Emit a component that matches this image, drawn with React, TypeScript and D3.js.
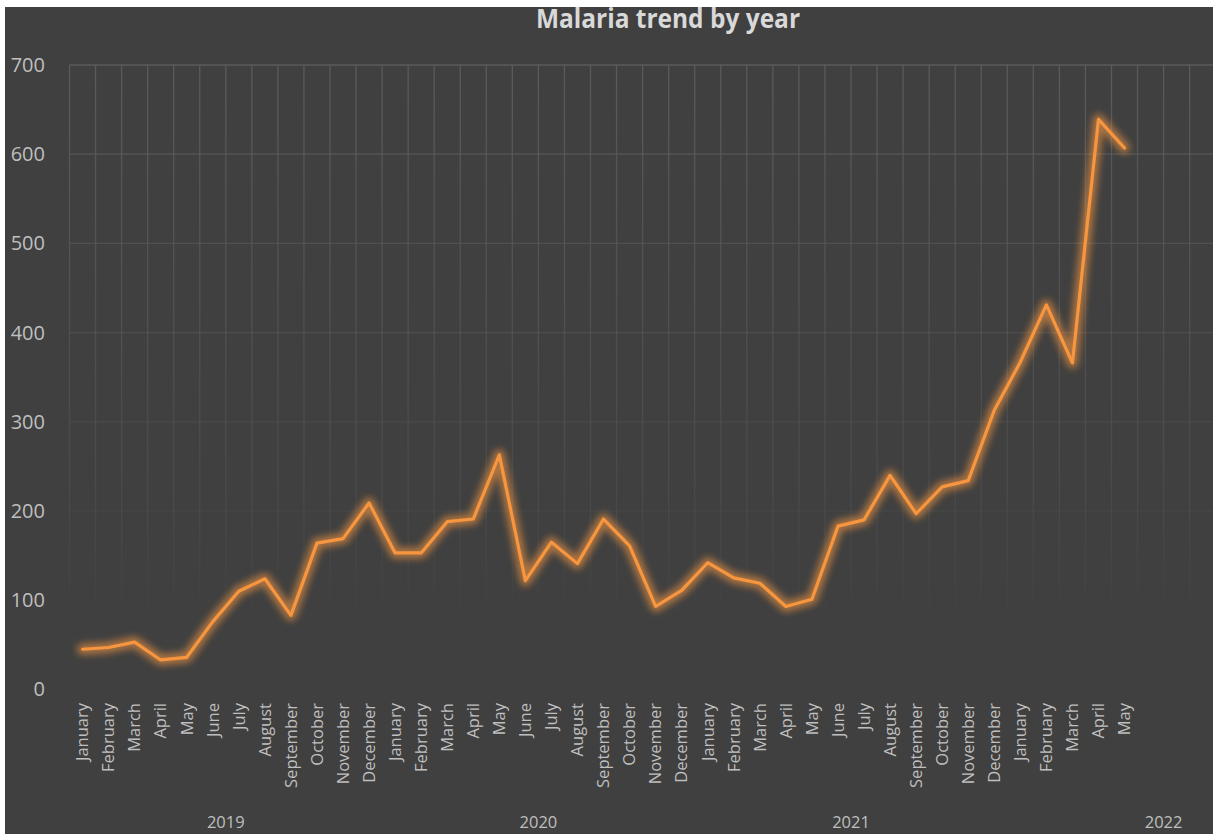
import React from "react";
import * as d3 from "d3";

const TITLE = "Malaria trend by year";

const MONTHS_FULL = ["January","February","March","April","May","June","July","August","September","October","November","December"];
const MONTHS_2022 = ["January","February","March","April","May","","","","","","",""];

const YEARS = ["2019", "2020", "2021", "2022"];

const values2019 = [45, 47, 53, 33, 36, 76, 110, 124, 83, 164, 169, 209];
const values2020 = [153, 153, 188, 191, 263, 122, 165, 141, 191, 161, 93, 111];
const values2021 = [142, 125, 119, 93, 101, 183, 190, 240, 197, 227, 234, 313];
const values2022 = [367, 431, 366, 639, 607];

const Y_TICKS = [0, 100, 200, 300, 400, 500, 600, 700];

const W = 1213;
const H = 835;

export default function App() {
  const monthGroups = [MONTHS_FULL, MONTHS_FULL, MONTHS_FULL, MONTHS_2022];
  const cats: { label: string; year: string; gi: number }[] = [];
  monthGroups.forEach((g, gi) => g.forEach((m) => cats.push({ label: m, year: YEARS[gi], gi })));
  const allValues = [...values2019, ...values2020, ...values2021, ...values2022];

  const plotLeft = 69.5;
  const step = 26.05;
  const x = d3
    .scaleBand<number>()
    .domain(cats.map((_, i) => i))
    .range([plotLeft, plotLeft + step * cats.length])
    .paddingInner(0)
    .paddingOuter(0);
  const bw = x.bandwidth();
  const cx = (i: number) => (x(i) as number) + bw / 2;

  const y = d3.scaleLinear().domain([0, 700]).range([689.4, 65]);

  const line = d3
    .line<number>()
    .x((_, i) => cx(i))
    .y((d) => y(d));
  const pathD = line(allValues) || "";

  const plotTop = y(700);
  const plotBottom = y(0);
  const gridFade = (yy: number) => {
    const t = (yy - plotTop) / (plotBottom - 40 - plotTop);
    return Math.max(0, 1 - t);
  };

  const groupStarts: number[] = [];
  let acc = 0;
  monthGroups.forEach((g) => {
    groupStarts.push(acc);
    acc += g.length;
  });

  const font = "'Open Sans', 'DejaVu Sans', sans-serif";

  return (
    <svg
      width={W}
      height={H}
      style={{ position: "absolute", left: 0, top: 0, display: "block" }}
    >
      <defs>
        <linearGradient id="vgrid" gradientUnits="userSpaceOnUse" x1="0" y1={plotTop} x2="0" y2={plotBottom}>
          <stop offset="0" stopColor="#5a5a5a" stopOpacity={1} />
          <stop offset="0.7" stopColor="#5a5a5a" stopOpacity={0.35} />
          <stop offset="0.9" stopColor="#5a5a5a" stopOpacity={0} />
        </linearGradient>
        <filter id="glow" x="-10%" y="-10%" width="120%" height="120%">
          <feGaussianBlur stdDeviation="3.6" />
        </filter>
      </defs>
      <rect x={0} y={0} width={W} height={H} fill="#ffffff" />
      <rect x={5} y={7} width={W - 5} height={H - 8} fill="#404040" />

      <text
        x={668}
        y={28}
        textAnchor="middle"
        fontFamily={font}
        fontWeight={700}
        fontSize={26}
        fill="#d9d9d9"
        textLength={264}
        lengthAdjust="spacingAndGlyphs"
      >
        {TITLE}
      </text>

      {/* vertical gridlines */}
      {cats.map((_, i) => (
        <line
          key={"v" + i}
          x1={x(i) as number}
          x2={x(i) as number}
          y1={plotTop}
          y2={plotBottom}
          stroke="url(#vgrid)"
          strokeWidth={1.3}
        />
      ))}
      <line
        x1={plotLeft + step * cats.length}
        x2={plotLeft + step * cats.length}
        y1={plotTop}
        y2={plotBottom}
        stroke="url(#vgrid)"
        strokeWidth={1.3}
      />
      {/* horizontal gridlines */}
      {Y_TICKS.map((t) => (
        <line
          key={"h" + t}
          x1={plotLeft}
          x2={plotLeft + step * cats.length}
          y1={y(t)}
          y2={y(t)}
          stroke="#5a5a5a"
          strokeOpacity={gridFade(y(t))}
          strokeWidth={1.3}
        />
      ))}

      {/* y tick labels */}
      {Y_TICKS.map((t) => (
        <text
          key={"yl" + t}
          x={45}
          y={y(t)}
          dy="0.35em"
          textAnchor="end"
          fontFamily={font}
          fontSize={20}
          fill="#bfbfbf"
        >
          {t}
        </text>
      ))}

      {/* month labels */}
      {cats.map((c, i) =>
        c.label ? (
          <text
            key={"ml" + i}
            transform={`translate(${cx(i)},703) rotate(-90)`}
            dy="0.35em"
            textAnchor="end"
            fontFamily={font}
            fontSize={16.5}
            fill="#bfbfbf"
          >
            {c.label}
          </text>
        ) : null
      )}

      {/* year labels */}
      {YEARS.map((yr, gi) => {
        const start = x(groupStarts[gi]) as number;
        const end = start + bw * monthGroups[gi].length;
        return (
          <text
            key={"yr" + yr}
            x={(start + end) / 2}
            y={822}
            dy="0.35em"
            textAnchor="middle"
            fontFamily={font}
            fontSize={16.5}
            fill="#bfbfbf"
          >
            {yr}
          </text>
        );
      })}

      {/* glow */}
      <path
        d={pathD}
        fill="none"
        stroke="#f7963f"
        strokeOpacity={0.6}
        strokeWidth={11}
        strokeLinejoin="round"
        strokeLinecap="round"
        filter="url(#glow)"
      />
      <path
        d={pathD}
        fill="none"
        stroke="#f7963f"
        strokeWidth={3.2}
        strokeLinejoin="round"
        strokeLinecap="round"
      />
    </svg>
  );
}
